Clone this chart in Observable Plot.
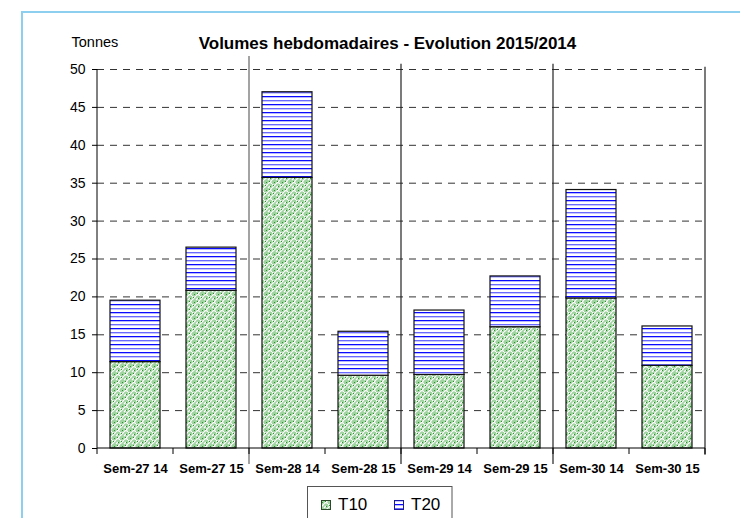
<!DOCTYPE html>
<html>
<head>
<meta charset="utf-8">
<script src="https://cdn.jsdelivr.net/npm/d3@7"></script>
<script src="https://cdn.jsdelivr.net/npm/@observablehq/plot@0.6"></script>
<style>
  body { margin: 0; background: #fff; }
  #wrap { position: relative; width: 740px; height: 518px; overflow: hidden; font-family: "Liberation Sans", Arial, sans-serif; }
  #wrap > svg { position: absolute; left: 0; top: 0; }
</style>
</head>
<body>
<div id="wrap"></div>
<script>
// ---- data ----
const categories = ["Sem-27 14", "Sem-27 15", "Sem-28 14", "Sem-28 15", "Sem-29 14", "Sem-29 15", "Sem-30 14", "Sem-30 15"];
const t10 = [11.4, 20.8, 35.7, 9.6, 9.7, 16.0, 19.8, 10.9];
const t20 = [8.1, 5.7, 11.3, 5.8, 8.5, 6.7, 14.3, 5.2];
const seriesNames = ["T10", "T20"];
const yTicks = [0, 5, 10, 15, 20, 25, 30, 35, 40, 45, 50];
const titleText = "Volumes hebdomadaires - Evolution 2015/2014";
const yUnit = "Tonnes";

const rows = categories.map((c, i) => ({cat: c, t10: t10[i], t20: t20[i]}));

const wrap = d3.select("#wrap");

// ---- overlay: patterns, frame, title, legend ----
const ov = wrap.append("svg").attr("width", 740).attr("height", 518)
  .attr("font-family", "Liberation Sans, Arial, sans-serif");
const defs = ov.append("defs");
const p10 = defs.append("pattern").attr("id", "pT10").attr("patternUnits", "userSpaceOnUse")
  .attr("width", 8).attr("height", 8);
p10.append("rect").attr("width", 8).attr("height", 8).attr("fill", "#9fd39f");
p10.append("path").attr("d", "M0,4L4,0M4,8L8,4M0,0L2,2M6,6L8,8M4,4L6,2")
  .attr("stroke", "#ffffff").attr("stroke-width", 1.3).attr("fill", "none");
p10.append("path").attr("d", "M2,6h1v1h-1zM6,2h1v1h-1zM5,5h1v1h-1zM1,1h1v1h-1z").attr("fill", "#2f8f2f");
const p20 = defs.append("pattern").attr("id", "pT20").attr("patternUnits", "userSpaceOnUse")
  .attr("width", 8).attr("height", 8);
p20.append("rect").attr("width", 8).attr("height", 8).attr("fill", "#ffffff");
p20.append("rect").attr("y", 0).attr("width", 8).attr("height", 1).attr("fill", "#0a0aff");
p20.append("rect").attr("y", 1).attr("width", 8).attr("height", 1).attr("fill", "#b8b8ff");
p20.append("rect").attr("y", 4).attr("width", 8).attr("height", 1).attr("fill", "#6a6aff");
p20.append("rect").attr("y", 5).attr("width", 8).attr("height", 1).attr("fill", "#c8c8ff");

ov.append("rect").attr("x", 22).attr("y", 12).attr("width", 760).attr("height", 560)
  .attr("fill", "none").attr("stroke", "#8ccfee").attr("stroke-width", 2);
ov.append("text").attr("x", 387.5).attr("y", 49).attr("text-anchor", "middle")
  .attr("font-weight", "bold").attr("font-size", 17).text(titleText);
ov.append("text").attr("x", 71.5).attr("y", 47).attr("font-size", 14.5).text(yUnit);

const lg = ov.append("g");
lg.append("rect").attr("x", 307.5).attr("y", 486.5).attr("width", 144.5).attr("height", 40)
  .attr("fill", "#fff").attr("stroke", "#555");
const swFill = {T10: "url(#pT10)", T20: "url(#pT20)"};
const swStroke = {T10: "#2a4a2a", T20: "#1a1aa0"};
seriesNames.forEach((s, i) => {
  const x0 = 321 + i * 73;
  lg.append("rect").attr("x", x0 + 0.5).attr("y", 500.5).attr("width", 9).attr("height", 9)
    .attr("fill", swFill[s]).attr("stroke", swStroke[s]);
  lg.append("text").attr("x", x0 + 17).attr("y", 510).attr("font-size", 17).text(s);
});

// ---- structural lines drawn from the scales ----
function structure(index, scales, values, dims) {
  const {x, y} = scales;
  const bw = x.bandwidth();
  const step = x.step ? x.step() : (dims.width - dims.marginLeft - dims.marginRight) / categories.length;
  const half = (step - bw) / 2;
  const x0 = x(categories[0]) - half;
  const n = categories.length;
  const g = d3.create("svg:g").attr("fill", "none");
  const y0 = y(0), yTop = y(50);
  // separators after each pair of weeks
  categories.forEach((c, i) => {
    if (i % 2 === 1) {
      const bx = x(c) + bw + half;
      const top = i === 1 ? 51.7 : (i === n - 1 ? 50.3 : 50.7);
      const bot = i === n - 1 ? -0.9 : -2.1;
      g.append("line").attr("x1", bx).attr("x2", bx).attr("y1", y(top)).attr("y2", y(bot))
        .attr("stroke", i === 1 ? "#666" : "#222").attr("stroke-width", 1.2);
    }
  });
  // x ticks at band boundaries
  for (let i = 0; i <= n; i++) {
    const bx = x0 + i * step;
    g.append("line").attr("x1", bx).attr("x2", bx).attr("y1", y0).attr("y2", y0 + 6)
      .attr("stroke", "#000");
  }
  // axis lines
  g.append("line").attr("x1", x0).attr("x2", x0).attr("y1", yTop).attr("y2", y0).attr("stroke", "#000");
  g.append("line").attr("x1", x0).attr("x2", x0 + n * step).attr("y1", y0).attr("y2", y0).attr("stroke", "#000");
  return g.node();
}

const chart = Plot.plot({
  width: 740,
  height: 518,
  marginLeft: 97,
  marginRight: 35,
  marginTop: 69,
  marginBottom: 70,
  style: {fontFamily: "Liberation Sans, Arial, sans-serif", fontSize: "14px", color: "#000", background: "transparent", overflow: "visible"},
  x: {domain: categories, paddingInner: 0.342, paddingOuter: 0.171, label: null},
  y: {domain: [0, 50], label: null},
  marks: [
    Plot.gridY(yTicks.filter(v => v > 0), {stroke: "#333", strokeOpacity: 1, strokeDasharray: "7,6"}),
    Plot.barY(rows, {x: "cat", y1: 0, y2: "t10", fill: "url(#pT10)", stroke: "#111", strokeWidth: 1.2}),
    Plot.barY(rows, {x: "cat", y1: "t10", y2: d => d.t10 + d.t20, fill: "url(#pT20)", stroke: "#111", strokeWidth: 1.2}),
    Plot.axisY(yTicks, {tickSize: 5, tickPadding: 7, fontSize: 14, label: null}),
    Plot.axisX({tickSize: 0, tickPadding: 15, fontSize: 13, fontWeight: "bold", label: null}),
    structure
  ]
});
wrap.node().appendChild(chart);
</script>
</body>
</html>
